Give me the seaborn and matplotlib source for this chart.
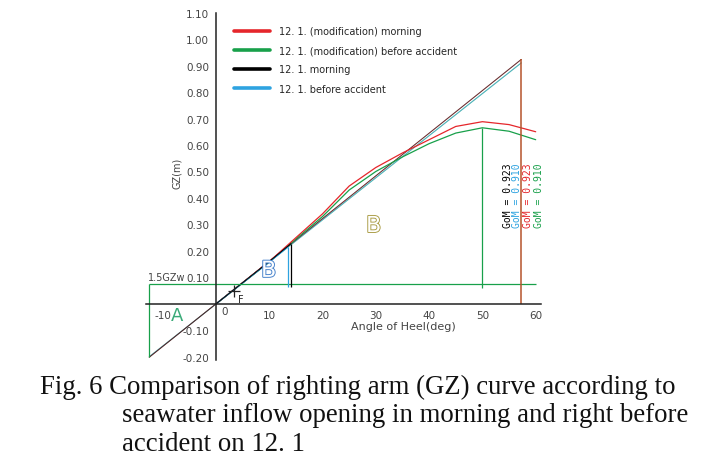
import numpy as np
import pandas as pd
import matplotlib
matplotlib.use('Agg')
import matplotlib.pyplot as plt
import matplotlib.patheffects as pe
from matplotlib.lines import Line2D
from matplotlib.ticker import FuncFormatter
import seaborn as sns

# ---- data ---------------------------------------------------------------
heel = [0, 5, 10, 15, 20, 25, 30, 35, 40, 45, 50, 55, 60]
gz_mod_morning = [0, 0.080, 0.160, 0.250, 0.340, 0.445, 0.515, 0.570, 0.620, 0.670, 0.688, 0.677, 0.650]
gz_mod_before = [0, 0.079, 0.158, 0.245, 0.330, 0.430, 0.500, 0.555, 0.605, 0.645, 0.665, 0.652, 0.620]

heel_morning = [0, 5, 10, 14.1]
gz_morning = [0, 0.080, 0.160, 0.228]
heel_before = [0, 5, 10, 13.5]
gz_before = [0, 0.079, 0.158, 0.215]

# GoM tangent lines (from -12.5 deg up to 1 rad = 57.3 deg)
tan_heel = [-12.5, 57.3]
tan_gz_923 = [-0.201, 0.923]
tan_gz_910 = [-0.199, 0.910]

gom_labels = ['GoM = 0.923', 'GoM = 0.910', 'GoM = 0.923', 'GoM = 0.910']
gom_x = [54.8, 56.5, 58.5, 60.6]

gzw_level = 0.075          # 1.5 GZw line
series_names = ['12. 1. (modification) morning', '12. 1. (modification) before accident',
                '12. 1. morning', '12. 1. before accident']

RED, GREEN, BLACK, BLUE = '#e5262b', '#18a04a', '#000000', '#2ea3e0'

caption = ['Fig. 6 Comparison of righting arm (GZ) curve according to',
           'seawater inflow opening in morning and right before',
           'accident on 12. 1']

# ---- figure ---------------------------------------------------------------
sns.set_style('white')
plt.rcParams['font.family'] = ['DejaVu Sans']

fig = plt.figure(figsize=(7.02, 4.60), dpi=100)
ax = fig.add_axes([0, 0, 1, 1])
ax.set_xlim(-40.5, 91.2)
ax.set_ylim(-0.585, 1.151)
ax.patch.set_alpha(0)

for s in ('top', 'right'):
    ax.spines[s].set_visible(False)
ax.spines['left'].set_position(('data', 0))
ax.spines['bottom'].set_position(('data', 0))
ax.spines['left'].set_bounds(-0.21, 1.10)
ax.spines['bottom'].set_bounds(-13.2, 61)
for s in ('left', 'bottom'):
    ax.spines[s].set_color('#222')
    ax.spines[s].set_linewidth(1.1)

ax.yaxis.set_major_formatter(FuncFormatter(lambda v, p: '' if abs(v) < 1e-6 else f'{v:.2f}'))
ax.xaxis.set_major_formatter(FuncFormatter(lambda v, p: '' if abs(v) < 1e-6 else f'{v:.0f}'))
ax.tick_params(which='both', direction='inout', length=7, width=1, color='#222',
               labelsize=7.5, labelcolor='#444', pad=1.5)
ax.tick_params(axis='x', pad=0.5)
ax.set_xticks([t for t in range(-10, 61, 10)])
ax.set_yticks(np.round(np.arange(-0.2, 1.101, 0.1), 2))
ax.set_xticks([t for t in range(-10, 61, 5) if t % 10], minor=True)
ax.set_yticks(np.round(np.arange(-0.15, 1.101, 0.1), 2), minor=True)
ax.text(1.0, -0.008, '0', fontsize=7.5, color='#444', ha='left', va='top')

# tangent lines
for gzs, col in [(tan_gz_910, GREEN), (tan_gz_910, BLUE), (tan_gz_923, RED), (tan_gz_923, BLACK)]:
    sns.lineplot(x=tan_heel, y=gzs, color=col, lw=0.7, alpha=0.6, ax=ax)

# GZ curves
sns.lineplot(x=heel, y=gz_mod_before, color=GREEN, lw=0.9, ax=ax)
sns.lineplot(x=heel, y=gz_mod_morning, color=RED, lw=0.9, ax=ax)
sns.lineplot(x=heel_before, y=gz_before, color=BLUE, lw=0.9, ax=ax)
sns.lineplot(x=heel_morning, y=gz_morning, color=BLACK, lw=0.7, ax=ax)

# limit lines
ax.hlines(gzw_level, tan_heel[0], heel[-1], color=GREEN, lw=0.9)
ax.vlines(tan_heel[0], tan_gz_910[0], gzw_level, color=GREEN, lw=0.9)
ax.vlines(heel[10], gzw_level - 0.013, gz_mod_before[10], color=GREEN, lw=0.9)
ax.vlines(tan_heel[1], 0, tan_gz_923[1], color='#b5532b', lw=1.1)
ax.vlines(heel_before[-1], gzw_level - 0.01, gz_before[-1], color=BLUE, lw=0.9)
ax.vlines(heel_morning[-1], gzw_level - 0.01, gz_morning[-1], color=BLACK, lw=0.9)

# GoM annotations
for xg, lab, col in zip(gom_x, gom_labels, [BLACK, BLUE, RED, GREEN]):
    ax.text(xg, 0.411, lab, rotation=90, ha='center', va='center', fontsize=7,
            color=col, family='DejaVu Sans Mono')

# region letters
outline = dict(fontsize=16, color='white')
ax.text(9.9, 0.125, 'B', ha='center', va='center',
        path_effects=[pe.withStroke(linewidth=1.4, foreground='#4a84cc')], **outline)
ax.text(29.6, 0.294, 'B', ha='center', va='center',
        path_effects=[pe.withStroke(linewidth=1.3, foreground='#a89a40')], **outline)
ax.text(-7.3, -0.042, 'A', ha='center', va='center', fontsize=13, color='#3aaa78')
ax.plot([3.4], [0.049], marker='+', ms=9, mew=0.9, color='#222')
ax.text(4.1, 0.038, 'F', fontsize=7, color='#222', ha='left', va='top')
ax.text(-12.7, 0.10, '1.5GZw', fontsize=7, color='#444', ha='left', va='center')

ax.text(-7.3, 0.495, 'GZ(m)', rotation=90, ha='center', va='center', fontsize=7, color='#444')
ax.text(35.1, -0.082, 'Angle of Heel(deg)', ha='center', va='center', fontsize=8, color='#444')

handles = [Line2D([], [], color=c, lw=2.6) for c in (RED, GREEN, BLACK, BLUE)]
fig.legend(handles, series_names, loc='upper left', bbox_to_anchor=(234 / 702, 1 - 27 / 460),
           frameon=False, borderpad=0, borderaxespad=0, handlelength=3.7,
           handletextpad=0.9, labelspacing=0.95, prop={'size': 7})

for i, line in enumerate(caption):
    x0 = 40 if i == 0 else 122
    fig.text(x0 / 702, 1 - (387 + 29 * i) / 460, line, family='Liberation Serif',
             fontsize=19.3, ha='left', va='center', color='#111')

fig.savefig('out.png', dpi=100)
